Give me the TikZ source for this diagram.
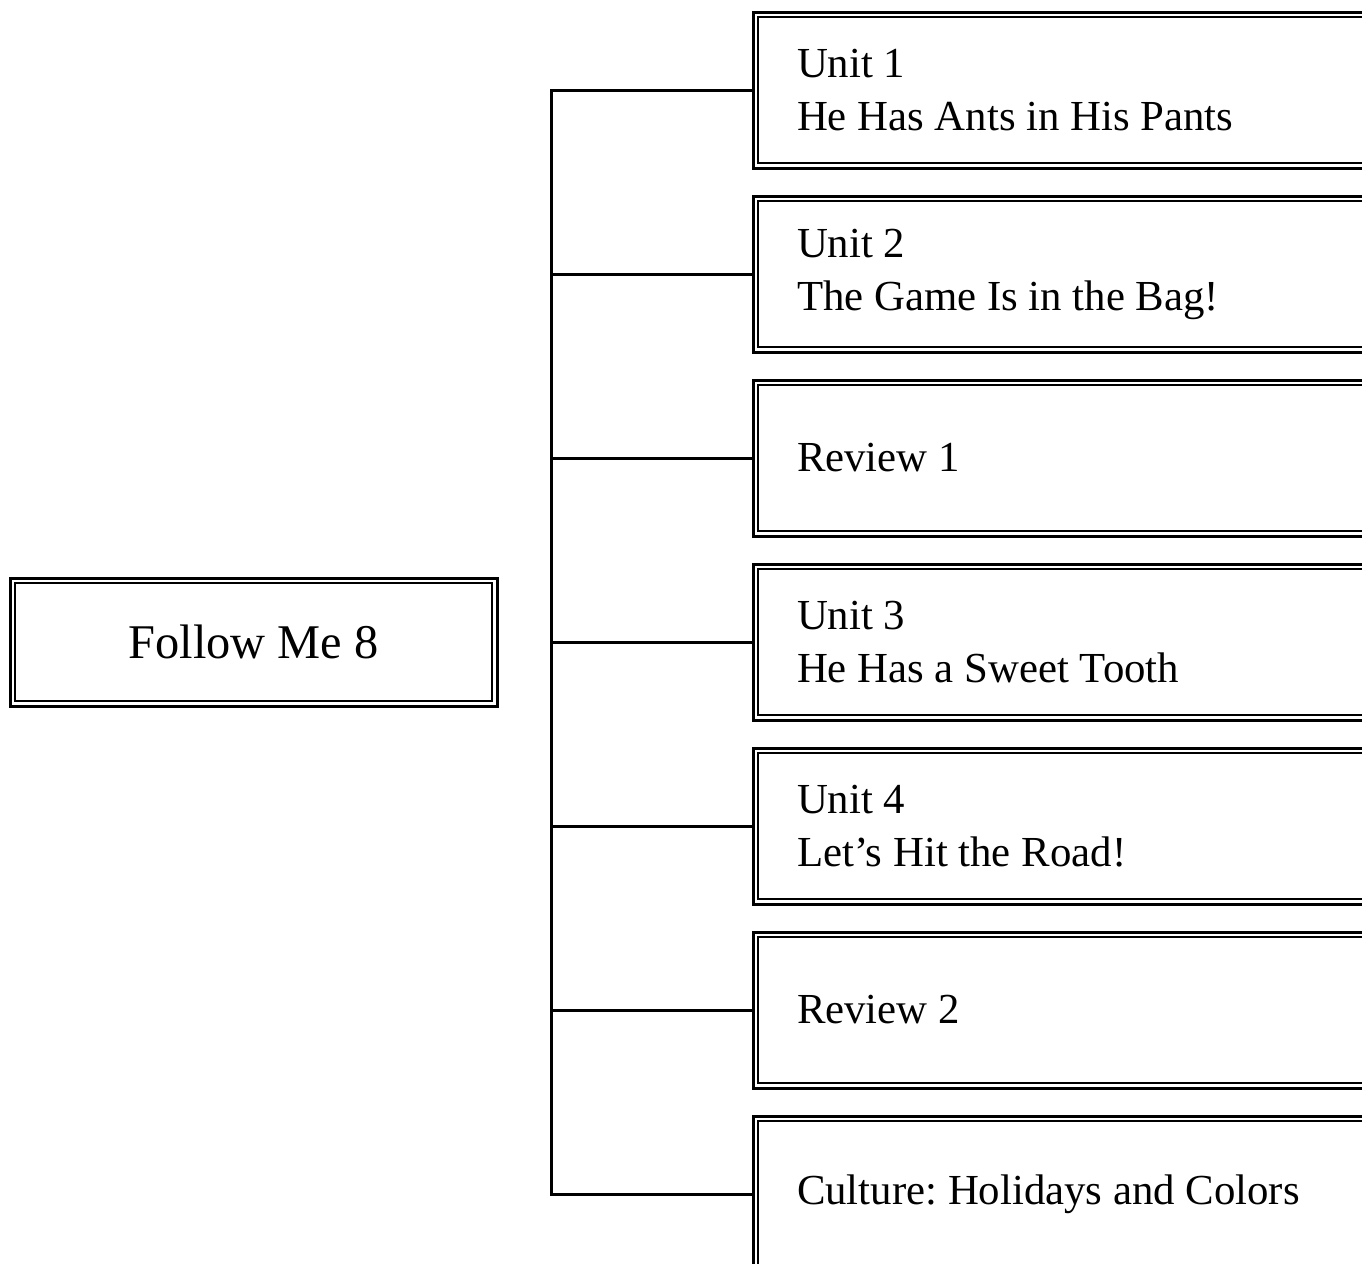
\documentclass[tikz,border=0pt]{standalone}
\usepackage{fontspec}
\setmainfont{Liberation Serif}
\tikzset{
  outerbox/.style={draw, line width=1.5pt, outer sep=0pt, minimum height=78pt,
    font=\fontsize{21.4}{26.5}\selectfont\frenchspacing},
  unitbox/.style={outerbox, anchor=north west, minimum width=330pt, text width=286pt,
    inner xsep=22pt, align=flush left},
  innerline/.style={line width=0.9pt},
  link/.style={line width=1.5pt}
}
\begin{document}
\begin{tikzpicture}[x=0.5pt,y=-0.5pt]
    \useasboundingbox (0,0) rectangle (1362,1264);
    \clip (0,0) rectangle (1362,1264);
    % book
    \node[outerbox, minimum width=243.5pt, minimum height=64pt,
      font=\fontsize{24.2}{28}\selectfont] (book) at (253.5,642) {Follow Me 8};
    % units
    \node[unitbox] (u1) at (753,12) {Unit 1\\He Has Ants in His Pants};
    \node[unitbox] (u2) at (753,196) {Unit 2\\The Game Is in the Bag!};
    \node[unitbox] (u3) at (753,380) {Review 1};
    \node[unitbox] (u4) at (753,564) {Unit 3\\He Has a Sweet Tooth};
    \node[unitbox] (u5) at (753,748) {Unit 4\\Let's Hit the Road!};
    \node[unitbox] (u6) at (753,932) {Review 2};
    \node[unitbox] (u7) at (753,1116) {Culture: Holidays and Colors};
    % inner lines of the double frames
    \foreach \b in {book,u1,u2,u3,u4,u5,u6,u7}
        \draw[innerline] ([xshift=2.6pt,yshift=-2.6pt]\b.north west)
            rectangle ([xshift=-2.6pt,yshift=2.6pt]\b.south east);
    % tree
    \coordinate (trunk) at (551,90);
    \draw[link] (u1.west) -- (u1.west -| trunk) -- (u7.west -| trunk) -- (u7.west);
    \foreach \b in {u2,u3,u4,u5,u6}
        \draw[link] (\b.west -| trunk) -- (\b.west);
\end{tikzpicture}
\end{document}
